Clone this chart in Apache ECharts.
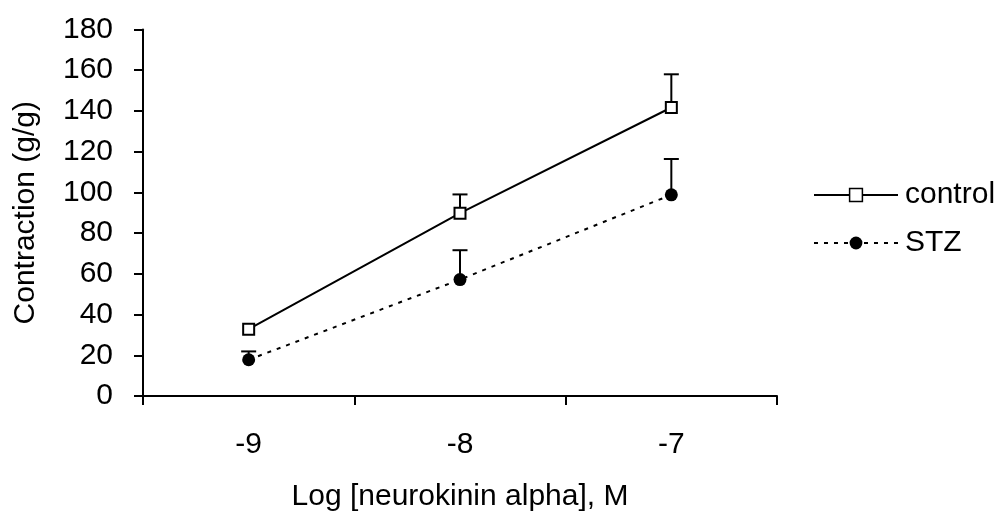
<!DOCTYPE html>
<html><head><meta charset="utf-8">
<script src="https://cdn.jsdelivr.net/npm/echarts@6/dist/echarts.min.js"></script>
<style>html,body{margin:0;padding:0;background:#fff}#c{width:1000px;height:517px}</style>
</head><body><div id="c"></div>
<script>
const categories = ['-9', '-8', '-7'];
const controlMean = [32.8, 89.8, 141.7];
const controlErr = [0, 9.2, 16.3];
const stzMean = [17.8, 57.2, 98.8];
const stzErr = [4.1, 14.4, 17.6];

function errSeries(mean, err, name) {
  return {
    type: 'custom', name: name + '_err', z: 1, silent: true,
    data: mean.map((m, i) => [i, m, m + err[i]]),
    renderItem: function (params, api) {
      if (api.value(2) - api.value(1) <= 0) return null;
      const p0 = api.coord([api.value(0), api.value(1)]);
      const p1 = api.coord([api.value(0), api.value(2)]);
      const hw = 7.5;
      return { type: 'group', children: [
        { type: 'line', shape: { x1: p0[0], y1: p0[1], x2: p1[0], y2: p1[1] }, style: { stroke: '#000', lineWidth: 2 } },
        { type: 'line', shape: { x1: p1[0] - hw, y1: p1[1], x2: p1[0] + hw, y2: p1[1] }, style: { stroke: '#000', lineWidth: 2 } }
      ]};
    }
  };
}

const chart = echarts.init(document.getElementById('c'));
chart.setOption({
  animation: false,
  textStyle: { fontFamily: 'Liberation Sans, Arial, sans-serif' },
  grid: { left: 143, right: 223, top: 29.5, bottom: 119, containLabel: false },
  legend: {
    left: 808, top: 175, orient: 'vertical', itemGap: 18, itemWidth: 84, itemHeight: 16,
    textStyle: { fontSize: 30, color: '#000', padding: [0, 0, 0, 2] },
    data: [
      { name: 'control', itemStyle: { borderWidth: 1.5 } },
      { name: 'STZ' }
    ]
  },
  xAxis: {
    type: 'category', data: categories, boundaryGap: true,
    name: 'Log [neurokinin alpha], M', nameLocation: 'middle', nameGap: 86,
    nameTextStyle: { fontSize: 30, color: '#000' },
    axisLine: { lineStyle: { color: '#000', width: 2 } },
    axisTick: { show: true, length: 9, lineStyle: { color: '#000', width: 2 } },
    axisLabel: { fontSize: 30, color: '#000', margin: 34 }
  },
  yAxis: {
    type: 'value', min: 0, max: 180, interval: 20,
    name: 'Contraction (g/g)', nameLocation: 'middle', nameGap: 102,
    nameTextStyle: { fontSize: 30, color: '#000' },
    splitLine: { show: false },
    axisLine: { show: true, lineStyle: { color: '#000', width: 2 } },
    axisTick: { show: true, length: 9, lineStyle: { color: '#000', width: 2 } },
    axisLabel: { fontSize: 30, color: '#000', margin: 30 }
  },
  series: [
    errSeries(controlMean, controlErr, 'control'),
    errSeries(stzMean, stzErr, 'STZ'),
    {
      name: 'control', type: 'line', data: controlMean, z: 3,
      symbol: 'rect', symbolSize: 11,
      itemStyle: { color: '#fff', borderColor: '#000', borderWidth: 2 },
      lineStyle: { color: '#000', width: 2, type: 'solid' }
    },
    {
      name: 'STZ', type: 'line', data: stzMean, z: 3,
      symbol: 'circle', symbolSize: 13,
      itemStyle: { color: '#000', borderColor: '#000', borderWidth: 0 },
      lineStyle: { color: '#000', width: 2, type: [4, 6] }
    }
  ]
});
</script></body></html>
